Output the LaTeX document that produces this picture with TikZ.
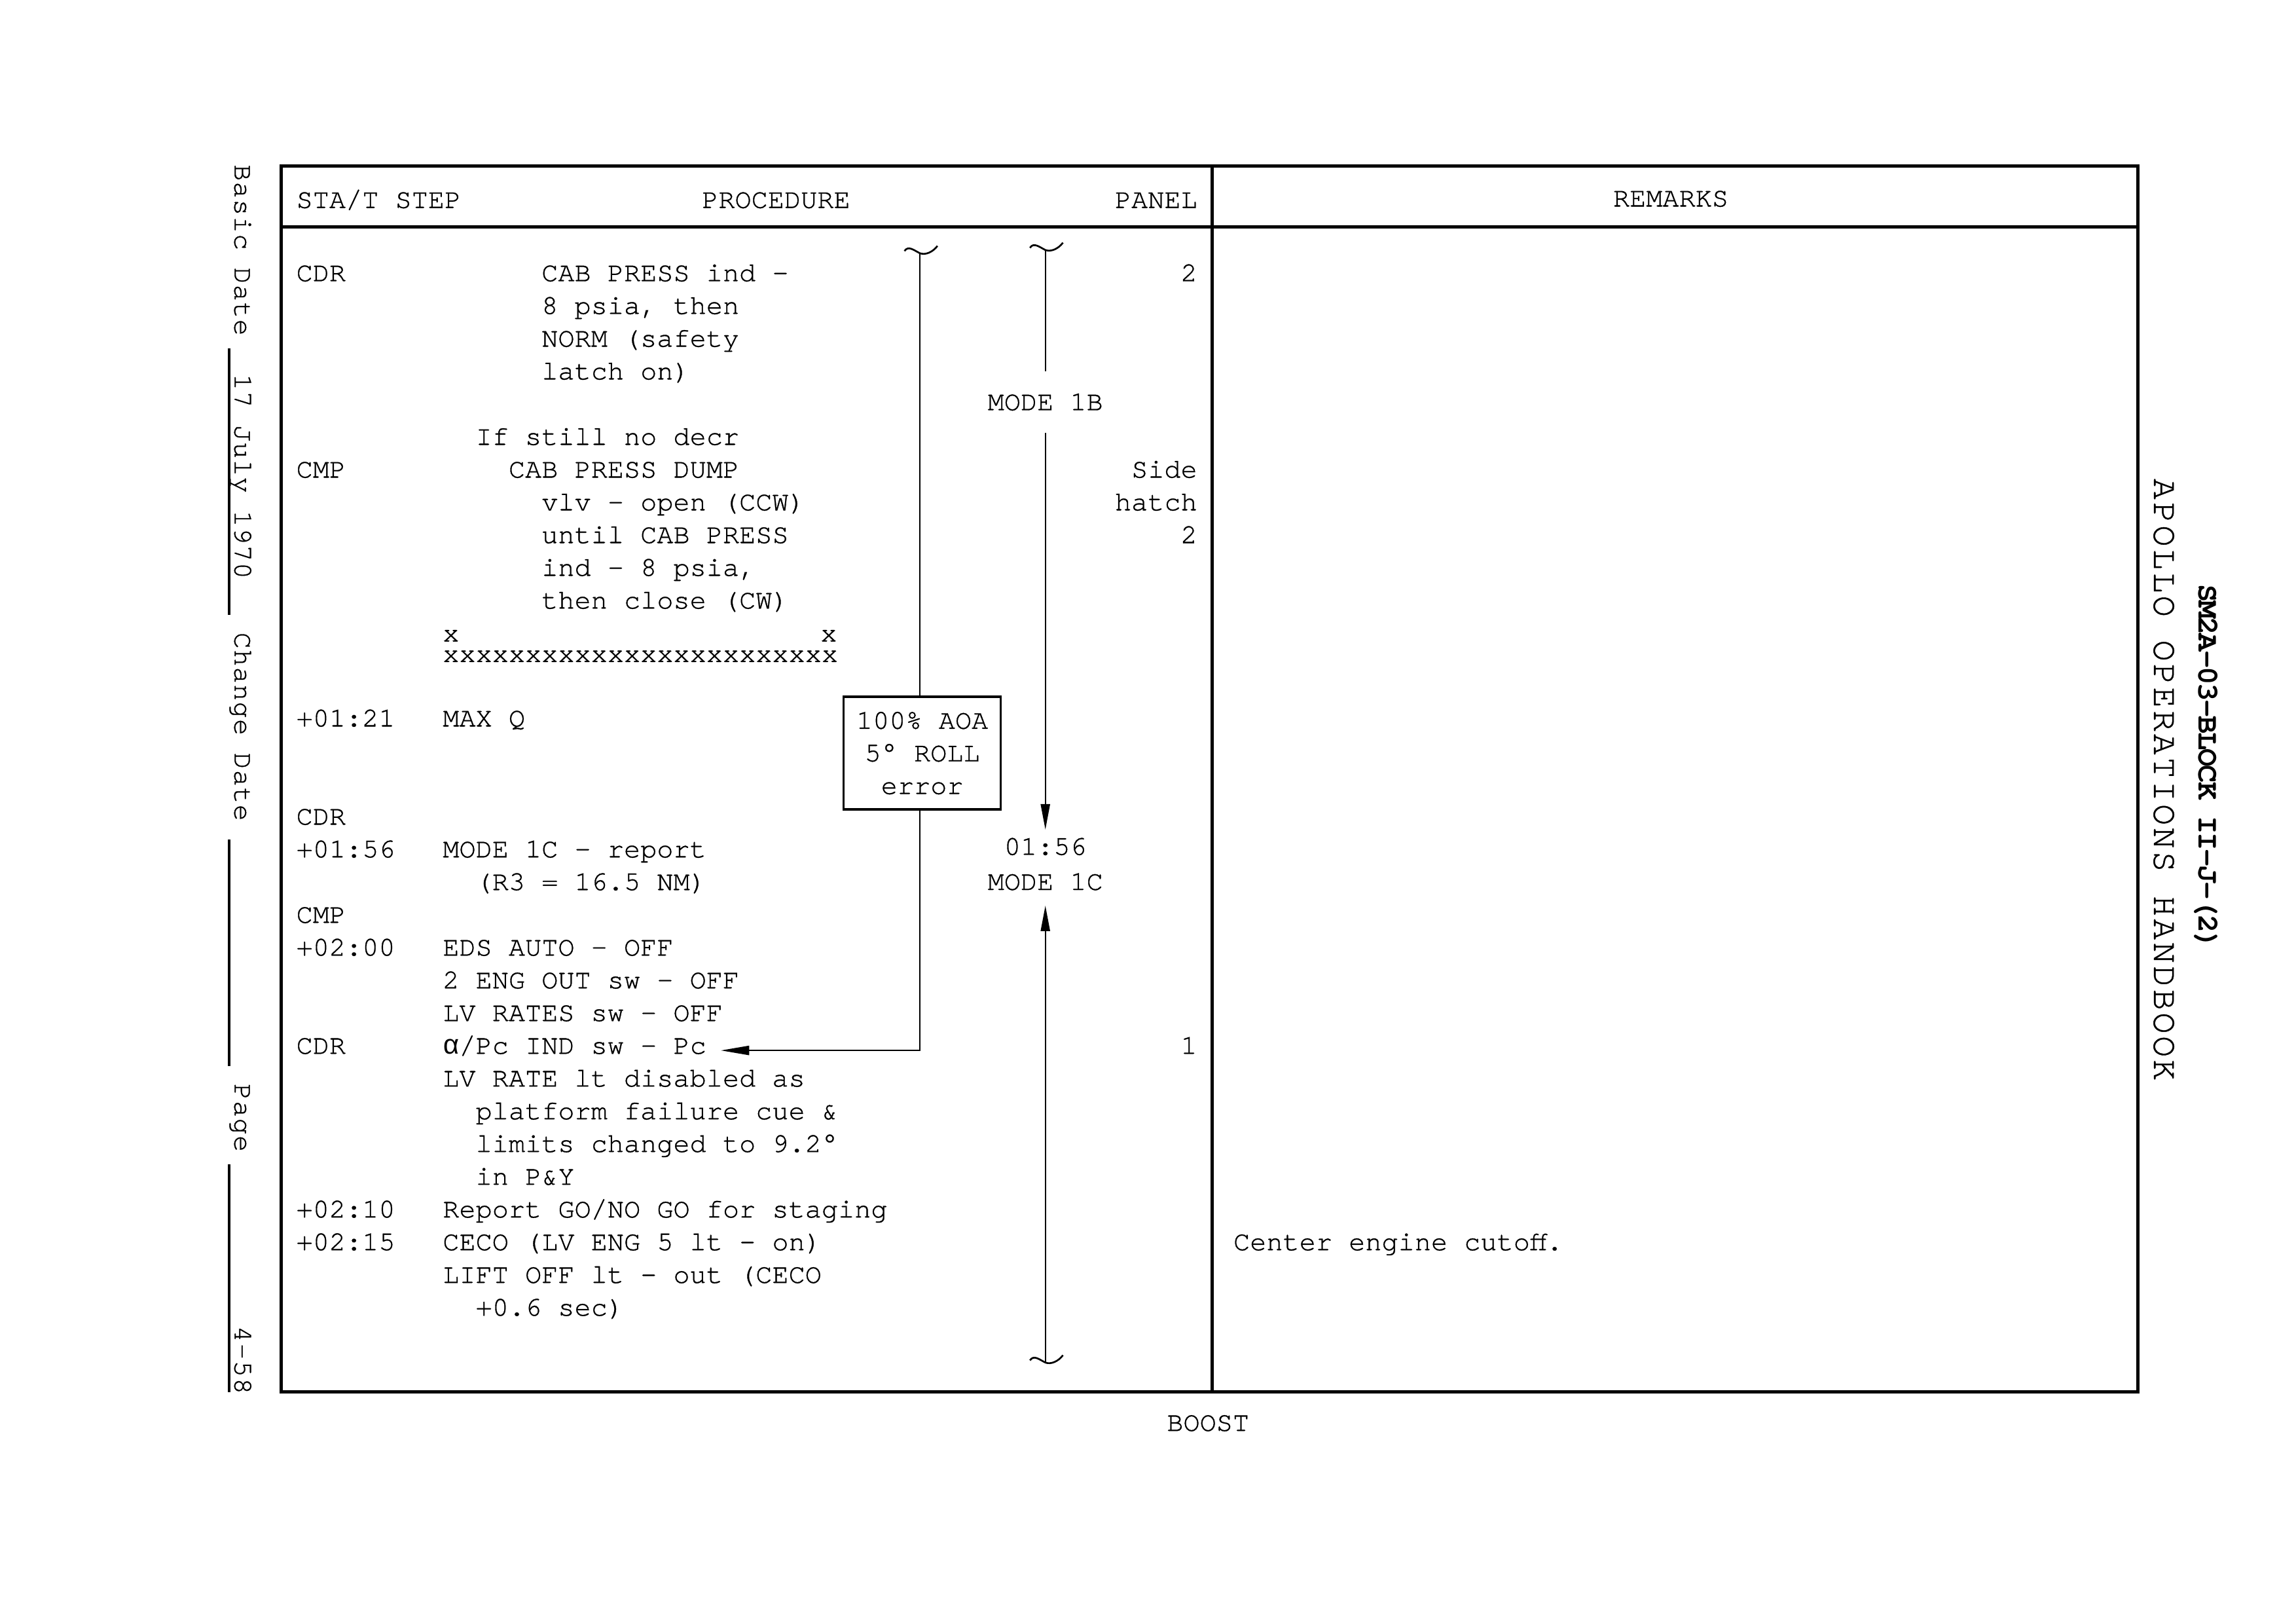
\documentclass[tikz,border=0pt]{standalone}
\usepackage{fontspec}
\setmainfont{texgyrecursor-regular.otf}[BoldFont=texgyrecursor-bold.otf,FakeBold=0.8]
\newfontfamily\sideface{texgyrecursor-regular.otf}[LetterSpace=6.8,FakeBold=0.8]
\newfontfamily\dateface{texgyrecursor-regular.otf}[LetterSpace=3.7,FakeBold=0.8]
\newfontfamily\serialface{texgyrecursor-bold.otf}[LetterSpace=-5]
\newfontfamily\greekface{Liberation Mono}
\usetikzlibrary{arrows.meta,calc}

\tikzset{
  txt/.style={anchor=base west},
  rtxt/.style={anchor=base east},
  ctxt/.style={anchor=base},
  border/.style={line width=1.2pt},
  wire/.style={line width=0.5pt},
  dateline/.style={line width=0.9pt},
  tipdown/.style={-{Triangle[length=9.4pt,width=3.4pt]}},
  tipleft/.style={-{Triangle[length=10.4pt,width=3.4pt]}},
  sidetext/.style={rotate=-90,anchor=base west,font=\dateface\fontsize{10}{12}\selectfont},
  cue/.style={draw,line width=0.8pt,align=center,minimum width=2.03cm,minimum height=1.457cm}
}
% wavy top or bottom end of a bracket line
\newcommand{\wave}[1]{\draw[line width=0.65pt,shift={(#1)}] (-10.5,-1.5) .. controls (-8,-5.5) and (-4,-2) .. (0,0) .. controls (4,1.5) and (9,-1) .. (12,-5);}

\begin{document}
\begin{tikzpicture}[x=0.018941cm,y=-0.018941cm,
  every node/.style={inner sep=0pt,font=\fontsize{10.1}{12}\selectfont}]
\useasboundingbox (0,0) rectangle (1568,1108.8);
% table frame
\draw[border] (192,113.5) rectangle (1460,950.5);
\draw[border] (192,155) -- (1460,155);
\draw[border] (828,113.5) -- (828,950.5);
% column heads
\node (hsta) at (202,142) [txt] {STA/T STEP};
\node (hproc) at (530,142) [ctxt] {PROCEDURE};
\node (hpanel) at (818,142) [rtxt] {PANEL};
\node (hrem) at (1141,141) [ctxt] {REMARKS};
% first block
\node (cdr1) at (202,192) [txt] {CDR};
\node (cab1) at (369.5,192) [txt] {CAB PRESS ind -};
\node (cab2) at (369.5,214.35) [txt] {8 psia, then};
\node (cab3) at (369.5,236.7) [txt] {NORM (safety};
\node (cab4) at (369.5,259.05) [txt] {latch on)};
\node (pnl1) at (818,192) [rtxt] {2};
\node (decr) at (324.5,303.75) [txt] {If still no decr};
\node (cmp1) at (202,326.1) [txt] {CMP};
\node (dump1) at (347,326.1) [txt] {CAB PRESS DUMP};
\node (dump2) at (369.5,348.45) [txt] {vlv - open (CCW)};
\node (dump3) at (369.5,370.8) [txt] {until CAB PRESS};
\node (dump4) at (369.5,393.15) [txt] {ind - 8 psia,};
\node (dump5) at (369.5,415.5) [txt] {then close (CW)};
\node (pnl2) at (818,326.1) [rtxt] {Side};
\node (pnl3) at (818,348.45) [rtxt] {hatch};
\node (pnl4) at (818,370.8) [rtxt] {2};
\node (xl) at (302,438) [txt] {x};
\node (xr) at (560,438) [txt] {x};
\node (xrow) at (302,452) [txt,text height=0.8ex] {xxxxxxxxxxxxxxxxxxxxxxxx};
% second block
\node (t121) at (202,496) [txt] {+01:21};
\node (maxq) at (302,496) [txt] {MAX Q};
\node (cdr2) at (202,563.05) [txt] {CDR};
\node (t156) at (202,585.4) [txt] {+01:56};
\node (mode1) at (302,585.4) [txt] {MODE 1C - report};
\node (mode2) at (324.5,607.75) [txt] {(R3 = 16.5 NM)};
\node (cmp2) at (202,630.1) [txt] {CMP};
\node (t200) at (202,652.45) [txt] {+02:00};
\node (eds1) at (302,652.45) [txt] {EDS AUTO - OFF};
\node (eds2) at (302,674.8) [txt] {2 ENG OUT sw - OFF};
\node (eds3) at (302,697.15) [txt] {LV RATES sw - OFF};
\node (cdr3) at (202,719.5) [txt] {CDR};
\node (pcsw) at (302,719.5) [txt] {{\greekface α}/Pc IND sw - Pc};
\node (pnl5) at (818,719.5) [rtxt] {1};
\node (rate1) at (302,741.85) [txt] {LV RATE lt disabled as};
\node (rate2) at (324.5,764.2) [txt] {platform failure cue \&};
\node (rate3) at (324.5,786.55) [txt] {limits changed to 9.2°};
\node (rate4) at (324.5,808.9) [txt] {in P\&Y};
\node (t210) at (202,831.25) [txt] {+02:10};
\node (gono) at (302,831.25) [txt] {Report GO/NO GO for staging};
\node (t215) at (202,853.6) [txt] {+02:15};
\node (ceco1) at (302,853.6) [txt] {CECO (LV ENG 5 lt - on)};
\node (ceco2) at (302,875.95) [txt] {LIFT OFF lt - out (CECO};
\node (ceco3) at (324.5,898.3) [txt] {+0.6 sec)};
\node (rem1) at (842,853.6) [txt] {Center engine cutoff.};
% brackets and arrows
\coordinate (tL) at (628.2,172.9);
\coordinate (tR) at (713.9,170.7);
\coordinate (tB) at (713.9,930.3);
\node (aoa) at (629.8,514.2) [cue] {100\% AOA\\5° ROLL\\error};
\node (m1b) at (713.9,274.5) [minimum height=0.78cm] {MODE 1B};
\node (m1c) at (713.9,590) [align=center,inner ysep=0.1cm,font=\fontsize{10.1}{12.9}\selectfont] {01:56\\MODE 1C};
\coordinate (pctip) at ($(pcsw.base east)+(9.6,-2.3)$);
\wave{tL}
\wave{tR}
\wave{tB}
\draw[wire] (tL) -- (tL |- aoa.north);
\draw[wire,tipleft] (tL |- aoa.south) |- (pctip);
\draw[wire] (tR) -- (m1b.north);
\draw[wire,tipdown] (m1b.south) -- (m1c.north);
\draw[wire,tipdown,shorten >=0.09cm] (tB) -- (m1c.south);
% left margin
\node (basic) at (160.2,112) [sidetext] {Basic Date};
\node (bdate) at (160.2,255) [sidetext] {17 July 1970};
\node (chg) at (160.2,431.5) [sidetext] {Change Date};
\node (pg) at (160.2,739.5) [sidetext] {Page};
\node (pgno) at (160.2,905) [sidetext] {4-58};
\draw[dateline] (156.5,237.7) -- (156.5,420);
\draw[dateline] (156.5,573) -- (156.5,728);
\draw[dateline] (156.5,795) -- (156.5,950.6);
% right margin
\node (hbk) at (1471,326.4) [rotate=-90,anchor=base west,font=\sideface\fontsize{12.9}{14}\selectfont] {APOLLO OPERATIONS HANDBOOK};
\node (serial) at (1501.4,398.7) [rotate=-90,anchor=base west,font=\serialface\fontsize{11}{12}\selectfont] {SM2A-03-BLOCK II-J-(2)};
% foot
\node (boost) at (825,977) [ctxt] {BOOST};
\end{tikzpicture}
\end{document}
